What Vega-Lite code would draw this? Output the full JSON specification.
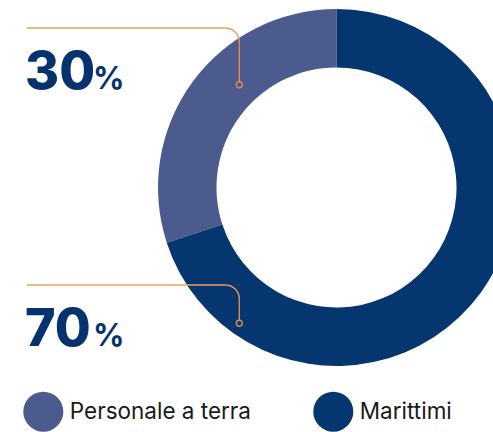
{
  "$schema": "https://vega.github.io/schema/vega-lite/v6.json",
  "width": 493,
  "height": 432,
  "autosize": {"type": "none"},
  "padding": 0,
  "background": "#ffffff",
  "config": {"view": {"stroke": null}},
  "data": {"values": [
    {"category": "Personale a terra", "value": 30, "ord": 2},
    {"category": "Marittimi", "value": 70, "ord": 1}
  ]},
  "resolve": {"scale": {"y": "independent", "size": "independent"}},
  "layer": [
    {
      "mark": {"type": "arc", "innerRadius": 120, "outerRadius": 178.5},
      "encoding": {
        "theta": {"field": "value", "type": "quantitative", "stack": true},
        "order": {"field": "ord", "type": "quantitative"},
        "x": {"datum": 336.5, "type": "quantitative", "scale": {"domain": [0, 493], "nice": false, "zero": false}, "axis": null},
        "y": {"datum": 187.5, "type": "quantitative", "scale": {"domain": [0, 432], "nice": false, "zero": false, "reverse": true}, "axis": null},
        "color": {
          "field": "category", "type": "nominal",
          "scale": {"domain": ["Personale a terra", "Marittimi"], "range": ["#4C5B8E", "#06366F"]},
          "legend": {
            "orient": "none", "legendX": 23.3, "legendY": 391.7, "direction": "horizontal",
            "title": null, "symbolType": "circle", "symbolSize": 1600, "symbolStrokeWidth": 0,
            "symbolOpacity": 1, "labelFont": "Inter", "labelFontSize": 22.5, "labelColor": "#1a1a1a",
            "labelOffset": 6.5, "labelLimit": 400, "columnPadding": 62, "padding": 0
          }
        }
      }
    },
    {
      "mark": {"type": "rule", "color": "#F2A15A", "strokeWidth": 1.4},
      "encoding": {
        "x": {"datum": 26.7, "type": "quantitative", "scale": {"domain": [0, 493], "nice": false, "zero": false}, "axis": null},
        "x2": {"datum": 225.3},
        "y": {"field": "category", "type": "nominal", "scale": {"type": "point", "padding": 0, "domain": ["Personale a terra", "Marittimi"], "range": [28, 285]}, "axis": null}
      }
    },
    {
      "mark": {"type": "arc", "theta": 0, "theta2": 1.5708, "innerRadius": 13.3, "outerRadius": 14.7, "color": "#E99A55"},
      "encoding": {
        "x": {"datum": 225.3, "type": "quantitative", "scale": {"domain": [0, 493], "nice": false, "zero": false}, "axis": null},
        "y": {"field": "category", "type": "nominal", "scale": {"type": "point", "padding": 0, "domain": ["Personale a terra", "Marittimi"], "range": [42, 299]}, "axis": null}
      }
    },
    {
      "mark": {"type": "tick", "orient": "vertical", "thickness": 1.4, "color": "#D98C4C", "opacity": 1},
      "encoding": {
        "x": {"datum": 239.3, "type": "quantitative", "scale": {"domain": [0, 493], "nice": false, "zero": false}, "axis": null},
        "y": {"field": "category", "type": "nominal", "scale": {"type": "point", "padding": 0, "domain": ["Personale a terra", "Marittimi"], "range": [61.7, 309.5]}, "axis": null},
        "size": {"field": "category", "type": "nominal", "scale": {"domain": ["Personale a terra", "Marittimi"], "range": [39.4, 21]}, "legend": null}
      }
    },
    {
      "mark": {"type": "point", "shape": "circle", "filled": false, "size": 36, "stroke": "#D98C4C", "strokeWidth": 1.4, "opacity": 1},
      "encoding": {
        "x": {"datum": 239.3, "type": "quantitative", "scale": {"domain": [0, 493], "nice": false, "zero": false}, "axis": null},
        "y": {"field": "category", "type": "nominal", "scale": {"type": "point", "padding": 0, "domain": ["Personale a terra", "Marittimi"], "range": [84.7, 323.3]}, "axis": null}
      }
    },
    {
      "mark": {"type": "text", "align": "left", "baseline": "alphabetic", "font": "Inter", "fontWeight": 800, "fontSize": 52, "color": "#06336F"},
      "encoding": {
        "x": {"datum": 25, "type": "quantitative", "scale": {"domain": [0, 493], "nice": false, "zero": false}, "axis": null},
        "y": {"field": "category", "type": "nominal", "scale": {"type": "point", "padding": 0, "domain": ["Personale a terra", "Marittimi"], "range": [89.3, 346]}, "axis": null},
        "text": {"field": "value", "type": "quantitative", "format": "d"}
      }
    },
    {
      "mark": {"type": "text", "align": "left", "baseline": "alphabetic", "font": "Inter", "fontWeight": 700, "fontSize": 31, "color": "#06336F", "text": "%"},
      "encoding": {
        "x": {"datum": 93, "type": "quantitative", "scale": {"domain": [0, 493], "nice": false, "zero": false}, "axis": null},
        "y": {"field": "category", "type": "nominal", "scale": {"type": "point", "padding": 0, "domain": ["Personale a terra", "Marittimi"], "range": [89.3, 346]}, "axis": null}
      }
    }
  ]
}
